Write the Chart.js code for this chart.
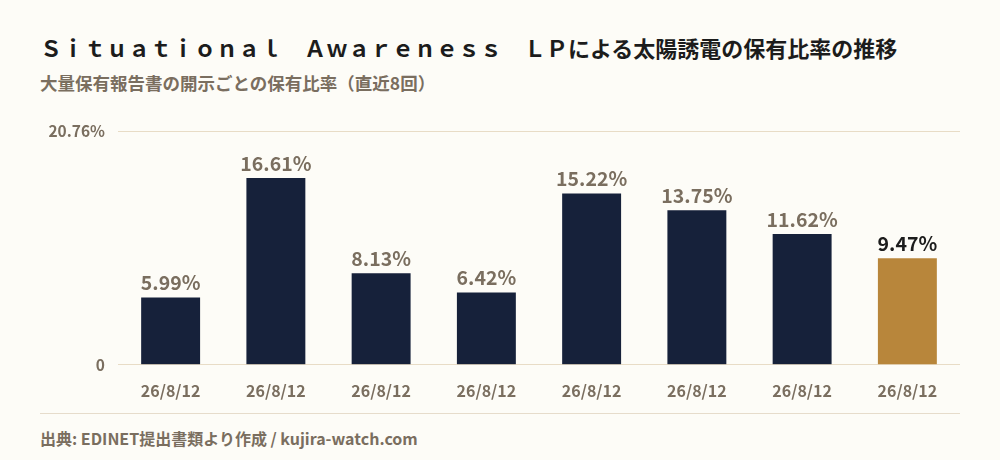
<!DOCTYPE html>
<html>
<head>
<meta charset="utf-8">
<script src="https://cdn.jsdelivr.net/npm/chart.js@4.4.0/dist/chart.umd.min.js"></script>
<style>
  html, body { margin: 0; padding: 0; background: #fdfcf7; }
  body { width: 1000px; height: 460px; position: relative; overflow: hidden;
         font-family: "Noto Sans CJK JP", "Noto Sans", sans-serif; }
  #title { position: absolute; left: 40px; top: 31px; font-size: 22px; font-weight: 700; color: #1c1c1c; white-space: nowrap; }
  #subtitle { position: absolute; left: 40px; top: 70px; font-size: 17.5px; font-weight: 700; color: #7a6e5f; white-space: nowrap; }
  #chart_box { position: absolute; left: 0; top: 109px; width: 1000px; height: 301px; }
  #rule { position: absolute; left: 40px; top: 413px; width: 920px; height: 1px; background: #e6dccb; }
  #source { position: absolute; left: 40px; top: 426px; font-size: 16px; font-weight: 700; color: #7a6e5f; white-space: nowrap; }
</style>
</head>
<body>
<div id="title">Ｓｉｔｕａｔｉｏｎａｌ　Ａｗａｒｅｎｅｓｓ　ＬＰによる太陽誘電の保有比率の推移</div>
<div id="subtitle">大量保有報告書の開示ごとの保有比率（直近8回）</div>
<div id="chart_box"><canvas id="canvas"></canvas></div>
<div id="rule"></div>
<div id="source">出典: EDINET提出書類より作成 / kujira-watch.com</div>
<script>
//-------------------
// data
//-------------------
var labels = ["26/8/12", "26/8/12", "26/8/12", "26/8/12", "26/8/12", "26/8/12", "26/8/12", "26/8/12"];
var ratios = [5.99, 16.61, 8.13, 6.42, 15.22, 13.75, 11.62, 9.47];
var yTicks = [0, 20.76];

var navy = "#16213a";
var gold = "#b8863b";
var muted = "#7a6e5f";
var fontFamily = '"Noto Sans CJK JP", "Noto Sans", sans-serif';

var barColors = ratios.map(function (v, i) { return i === ratios.length - 1 ? gold : navy; });

// value labels above each bar
var valueLabels = {
    id: 'valueLabels',
    afterDatasetsDraw: function (chart) {
        var ctx = chart.ctx;
        var meta = chart.getDatasetMeta(0);
        ctx.save();
        ctx.font = "700 19.5px " + fontFamily;
        ctx.textAlign = "center";
        ctx.textBaseline = "bottom";
        meta.data.forEach(function (bar, i) {
            ctx.fillStyle = (i === ratios.length - 1) ? "#1c1c1c" : muted;
            ctx.fillText(ratios[i].toFixed(2) + "%", bar.x, bar.y - 5);
        });
        ctx.restore();
    }
};

var ctx = document.getElementById("canvas").getContext("2d");
var chart = new Chart(ctx, {
    type: 'bar',
    data: {
        labels: labels,
        datasets: [{
            data: ratios,
            backgroundColor: barColors,
            borderWidth: 0,
            categoryPercentage: 1.0,
            barPercentage: 0.56
        }]
    },
    plugins: [valueLabels],
    options: {
        responsive: true,
        maintainAspectRatio: false,
        animation: false,
        layout: { padding: { top: 20, right: 40, left: 0, bottom: 0 } },
        plugins: {
            legend: { display: false },
            tooltip: { enabled: false }
        },
        scales: {
            x: {
                grid: { display: false },
                border: { display: false },
                ticks: {
                    color: muted,
                    padding: 9,
                    font: { family: fontFamily, size: 16, weight: '700' }
                }
            },
            y: {
                min: yTicks[0],
                max: yTicks[yTicks.length - 1],
                afterBuildTicks: function (axis) {
                    axis.ticks = yTicks.map(function (v) { return { value: v }; });
                },
                afterFit: function (axis) { axis.width = 118; },
                grid: { color: "#e8dcc6", lineWidth: 1, drawTicks: false },
                border: { display: false },
                ticks: {
                    color: muted,
                    padding: 13,
                    font: { family: fontFamily, size: 15.5, weight: '700' },
                    callback: function (v) { return v === 0 ? "0" : v.toFixed(2) + "%"; }
                }
            }
        }
    }
});
</script>
</body>
</html>
